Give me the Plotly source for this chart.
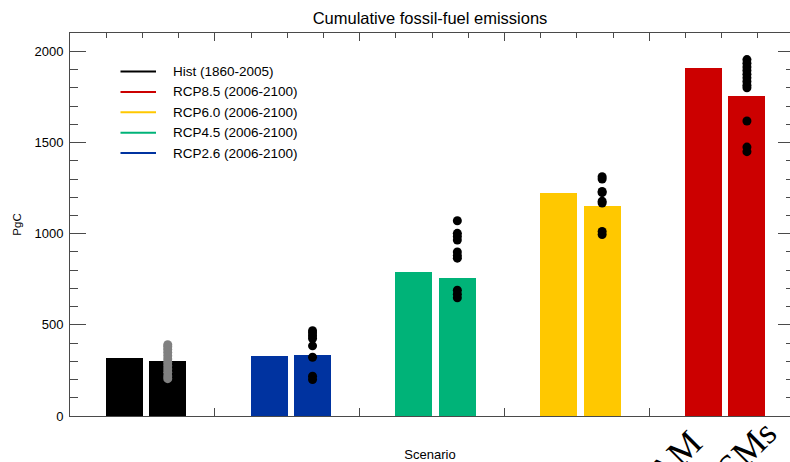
import plotly.graph_objects as go

# ---- data -------------------------------------------------------------
scenario_names = [
    "Hist (1860-2005)",
    "RCP2.6 (2006-2100)",
    "RCP4.5 (2006-2100)",
    "RCP6.0 (2006-2100)",
    "RCP8.5 (2006-2100)",
]
scenario_colors = ["#000000", "#0033a0", "#00b378", "#ffc800", "#cc0000"]

# cumulative emissions, PgC
iam_totals = [317, 330, 790, 1222, 1909]
esm_totals = [304, 335, 755, 1152, 1758]

# individual model estimates, PgC
models_hist = [205, 220, 240, 258, 276, 294, 312, 330, 348, 365, 380, 391]
models_rcp26 = [468, 455, 440, 425, 385, 322, 218, 200]
models_rcp45 = [1071, 1002, 985, 965, 900, 880, 866, 690, 668, 648]
models_rcp60 = [1313, 1300, 1232, 1225, 1178, 1168, 1012, 995]
models_rcp85 = [1955, 1935, 1915, 1895, 1875, 1855, 1835, 1815, 1800, 1618, 1475, 1450]
model_values = [models_hist, models_rcp26, models_rcp45, models_rcp60, models_rcp85]
model_dot_colors = ["#808080", "#000000", "#000000", "#000000", "#000000"]

legend_order = [0, 4, 3, 2, 1]
bar_labels = ["IAM", "ESMs"]

y_tick_values = [0, 500, 1000, 1500, 2000]
y_tick_labels = ["0", "500", "1000", "1500", "2000"]

# ---- layout constants ---------------------------------------------------
W, H = 790, 462
ML, MR, MT, MB = 70, 0, 33, 46
X_MAX = 4.9724
Y_MAX = 2101
IAM_OFFSET, ESM_OFFSET, BAR_WIDTH = 0.375, 0.675, 0.255
AXIS_COLOR = "#4a4a4a"
FONT = "Liberation Sans, Arial, Helvetica, sans-serif"

plot_w = W - ML - MR
plot_h = H - MT - MB


def px_to_paper_x(px):
    return (px - ML) / plot_w


def px_to_paper_y(py):
    return (H - MB - py) / plot_h


groups = list(range(len(scenario_names)))

fig = go.Figure()

fig.add_trace(go.Bar(
    x=[g + IAM_OFFSET for g in groups], y=iam_totals, width=BAR_WIDTH,
    marker=dict(color=scenario_colors, line=dict(width=0)),
    name=bar_labels[0], showlegend=False,
))
fig.add_trace(go.Bar(
    x=[g + ESM_OFFSET for g in groups], y=esm_totals, width=BAR_WIDTH,
    marker=dict(color=scenario_colors, line=dict(width=0)),
    name=bar_labels[1], showlegend=False,
))

for g, vals, col in zip(groups, model_values, model_dot_colors):
    fig.add_trace(go.Scatter(
        x=[g + ESM_OFFSET] * len(vals), y=vals, mode="markers",
        marker=dict(color=col, size=9, line=dict(width=0)),
        showlegend=False, hoverinfo="y",
    ))

# carrier for the top / right tick axes
fig.add_trace(go.Scatter(x=[None], y=[None], xaxis="x2", yaxis="y2",
                         showlegend=False, hoverinfo="skip"))

# ---- hand-drawn legend ------------------------------------------------
shapes = []
annotations = []
for row, idx in enumerate(legend_order):
    ypx = 71.5 + 20.4 * row
    yp = px_to_paper_y(ypx)
    shapes.append(dict(type="line", xref="paper", yref="paper",
                       x0=px_to_paper_x(120.5), x1=px_to_paper_x(156),
                       y0=yp, y1=yp,
                       line=dict(color=scenario_colors[idx], width=2)))
    annotations.append(dict(xref="paper", yref="paper",
                            x=px_to_paper_x(171), y=yp,
                            xanchor="left", yanchor="middle",
                            text=scenario_names[idx], showarrow=False,
                            font=dict(family=FONT, size=13.5, color="#000")))

# rotated bar-type labels under the last scenario group (run off the page)
last = groups[-1]
for label, dx, ypx in zip(bar_labels, [0.148, 0.622], [462, 458]):
    annotations.append(dict(xref="x", yref="paper",
                            x=last + dx, y=px_to_paper_y(ypx),
                            xanchor="center", yanchor="middle",
                            text=label, textangle=-45, showarrow=False,
                            font=dict(family="Liberation Serif, Times New Roman, serif",
                                      size=36, color="#000")))

fig.update_layout(
    width=W, height=H,
    margin=dict(l=ML, r=MR, t=MT, b=MB, pad=0),
    paper_bgcolor="white", plot_bgcolor="white",
    bargap=0, barmode="overlay",
    font=dict(family=FONT, size=13, color="#000"),
    title=dict(text="Cumulative fossil-fuel emissions",
               font=dict(family=FONT, size=16.5, color="#000"),
               x=0.5, xref="paper", xanchor="center",
               y=1 - 18 / H, yref="container", yanchor="middle"),
    xaxis=dict(range=[0, X_MAX], showgrid=False, zeroline=False,
               showline=True, linecolor=AXIS_COLOR, linewidth=1,
               ticks="inside", tickvals=[1, 2, 3, 4], ticklen=8,
               tickcolor=AXIS_COLOR, tickwidth=1, showticklabels=False,
               title=dict(text="Scenario", standoff=35,
                          font=dict(family=FONT, size=13, color="#000"))),
    xaxis2=dict(range=[0, X_MAX], overlaying="x", side="top", anchor="y",
                showgrid=False, zeroline=False, showline=True,
                linecolor=AXIS_COLOR, linewidth=1,
                ticks="inside", tick0=0, dtick=1, ticklen=8,
                tickcolor=AXIS_COLOR, tickwidth=1, showticklabels=False,
                minor=dict(ticks="inside", tick0=0, dtick=0.25, ticklen=5,
                           tickcolor=AXIS_COLOR, tickwidth=1, showgrid=False)),
    yaxis=dict(range=[0, Y_MAX], showgrid=False, zeroline=False,
               showline=True, linecolor=AXIS_COLOR, linewidth=1,
               ticks="inside", tickvals=y_tick_values, ticktext=y_tick_labels,
               ticklen=16, tickcolor=AXIS_COLOR, tickwidth=1,
               tickfont=dict(family=FONT, size=13, color="#000"),
               ticklabelstandoff=3,
               minor=dict(ticks="inside", dtick=100, ticklen=8,
                          tickcolor=AXIS_COLOR, tickwidth=1, showgrid=False),
               title=dict(text="PgC", standoff=10,
                          font=dict(family=FONT, size=11.5, color="#000"))),
    yaxis2=dict(range=[0, Y_MAX], overlaying="y", side="right", anchor="x",
                showgrid=False, zeroline=False, showline=False,
                ticks="inside", tickvals=y_tick_values, ticklen=12,
                tickcolor=AXIS_COLOR, tickwidth=1, showticklabels=False,
                minor=dict(ticks="inside", dtick=100, ticklen=4,
                           tickcolor=AXIS_COLOR, tickwidth=1, showgrid=False)),
    shapes=shapes,
    annotations=annotations,
)

fig.write_html("out.html")
